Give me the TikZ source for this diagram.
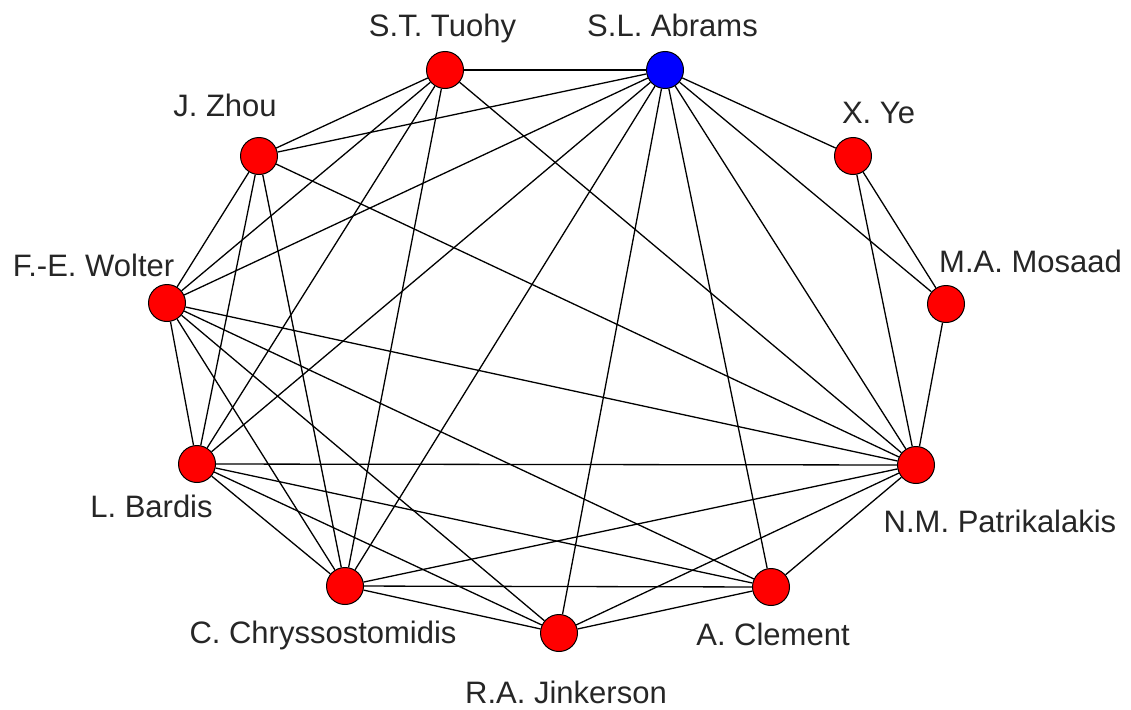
\documentclass[tikz,border=0pt]{standalone}
\usepackage{fontspec}
\setmainfont{Liberation Sans}
\begin{document}
\begin{tikzpicture}[x=1pt,y=-1pt,
  person/.style={circle,draw=black,line width=1pt,fill=red,minimum size=37pt,inner sep=0pt},
  lead/.style={person,fill=blue},
  lbl/.style={anchor=base,inner sep=0pt,text=black!85,font=\fontsize{31}{36}\selectfont},
  link/.style={draw=black,line width=1.3pt}]
\useasboundingbox (0,0) rectangle (1131,709);
\fill[white] (0,0) rectangle (1131,709);
% nodes
\node[person] (T)  at (445,70) {};
\node[lead]   (A)  at (665,70) {};
\node[person] (Z)  at (259,156) {};
\node[person] (Y)  at (853,156) {};
\node[person] (W)  at (167,303) {};
\node[person] (M)  at (946,304) {};
\node[person] (B)  at (197,464) {};
\node[person] (P)  at (916,465) {};
\node[person] (C)  at (345,586) {};
\node[person] (Cl) at (771,587) {};
\node[person] (J)  at (559,633) {};
% labels
\node[lbl] (lT)  at (442.5,37) {S.T. Tuohy};
\node[lbl] (lA)  at (672.5,37) {S.L. Abrams};
\node[lbl] (lZ)  at (225,116) {J. Zhou};
\node[lbl] (lY)  at (878.5,123) {X. Ye};
\node[lbl] (lW)  at (93.5,276) {F.-E. Wolter};
\node[lbl] (lM)  at (1030.5,272) {M.A. Mosaad};
\node[lbl] (lB)  at (151.5,517) {L. Bardis};
\node[lbl] (lP)  at (1000,532) {N.M. Patrikalakis};
\node[lbl] (lC)  at (323,643) {C. Chryssostomidis};
\node[lbl] (lCl) at (773,645) {A. Clement};
\node[lbl] (lJ)  at (566,703) {R.A. Jinkerson};
% edges
\foreach \a/\b in {T/A,T/Z,T/W,T/B,T/C,T/P,
  A/Z,A/W,A/B,A/C,A/J,A/Cl,A/P,A/M,A/Y,
  Z/W,Z/B,Z/C,Z/P,
  W/B,W/C,W/J,W/Cl,W/P,
  B/P,B/C,B/Cl,B/J,
  C/P,C/Cl,C/J,
  J/Cl,J/P,
  Cl/P,
  P/M,P/Y,
  Y/M}
  \draw[link] (\a) -- (\b);
\end{tikzpicture}
\end{document}
